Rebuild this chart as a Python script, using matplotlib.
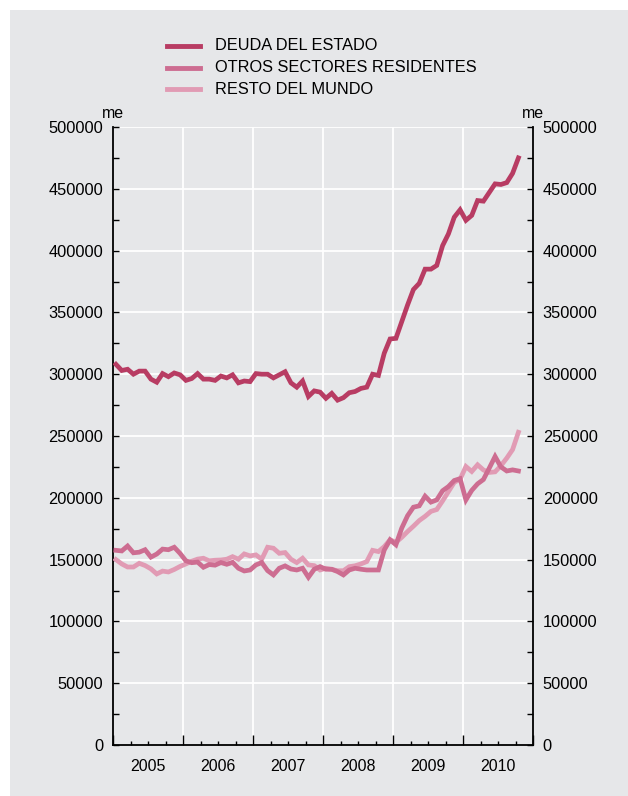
import numpy as np
import matplotlib
matplotlib.use("Agg")
import matplotlib.pyplot as plt
from matplotlib.lines import Line2D
from matplotlib.patches import Rectangle
from matplotlib.ticker import MultipleLocator, FixedLocator

plt.rcParams['font.family'] = ['Liberation Sans', 'DejaVu Sans']

# ---- data (thousands of euros, monthly Jan 2005 - Oct 2010) ----
start_year = 2005
n_months = 70
deuda_estado = [308, 303, 304, 300, 302.5, 302.5, 296, 293.5, 300.5, 298, 301, 299.5,
                295, 296.5, 300.5, 296, 296, 295, 298.5, 297, 299.5, 293, 294.5, 294,
                300.5, 300, 300, 297, 299.5, 302, 293, 289.5, 294.5, 282, 286.5, 285.5,
                280.5, 284.5, 279, 281, 285, 286, 288.5, 289.5, 300, 299, 317, 328.5,
                329, 342.5, 356, 368.5, 373.5, 385, 385, 388, 404, 413.5, 427, 433,
                424.5, 428.5, 440.5, 440, 447, 454, 453.5, 455, 462.5, 475]
otros_sectores = [157.5, 157, 161, 155.5, 156, 158, 152, 154.5, 158.5, 158, 160, 155,
                  149, 147.5, 148, 143.8, 146, 145.5, 147.6, 146.2, 147.8, 143, 140.8, 141.6,
                  145.7, 147.6, 141.1, 137.6, 143, 144.9, 142.4, 141.6, 143, 135.7, 142.2, 144.3,
                  142.2, 142.2, 140.3, 137.6, 141.6, 143, 142.2, 141.6, 141.6, 141.6, 157.8, 166,
                  162, 175.5, 185.5, 192.4, 193.5, 201.3, 196.5, 198.3, 205.7, 209.1, 214, 215.5,
                  198.3, 206, 211.3, 214.8, 224, 233.4, 225, 221.7, 222.6, 221.7]
resto_mundo = [150, 146.5, 144, 144, 147, 145.2, 142.5, 138.4, 140.7, 140, 142, 144.5,
               146.5, 148.7, 150.4, 151.1, 149, 149.5, 149.7, 150.3, 152.4, 150.3, 154.6, 153,
               153.8, 150.3, 160, 159.2, 155.1, 155.7, 150.3, 147.6, 151.1, 145.7, 145.1, 141.6,
               143, 142, 141, 141, 144.3, 145, 146.5, 148.4, 157.5, 156.5, 160.5, 166,
               164, 168, 172.7, 177, 181.6, 185, 189, 190.5, 197.5, 205, 212.5, 215,
               225.3, 221.3, 226.7, 222.5, 220.5, 221, 226, 232.1, 239, 253]
series_names = ["DEUDA DEL ESTADO", "OTROS SECTORES RESIDENTES", "RESTO DEL MUNDO"]
series_colors = ["#b83c63", "#cd6d91", "#e19bb4"]
year_labels = ["2005", "2006", "2007", "2008", "2009", "2010"]
unit_label = "me"

x = start_year + (np.arange(n_months) + 0.5) / 12.0
series = [np.array(deuda_estado) * 1000, np.array(otros_sectores) * 1000,
          np.array(resto_mundo) * 1000]

W, H = 628, 796
fig = plt.figure(figsize=(W / 100, H / 100), dpi=100)
fig.patch.set_facecolor("white")
bg = "#e6e7e9"
fig.add_artist(Rectangle((10 / W, 0), 1 - 10 / W, 1 - 10 / H, transform=fig.transFigure,
                         facecolor=bg, edgecolor="none", zorder=-10))

ax = fig.add_axes([113 / W, 1 - 745 / H, 420 / W, 618 / H])
ax.set_facecolor(bg)

# grid
for yv in np.arange(50000, 500001, 50000):
    ax.axhline(yv, color="white", lw=1.3, zorder=1)
for xv in range(2006, 2011):
    ax.axvline(xv, color="white", lw=1.3, zorder=1)

# series: draw lightest first
for ser, col in reversed(list(zip(series, series_colors))):
    ax.plot(x, ser, color=col, lw=3.4, solid_joinstyle="miter", zorder=3)

ax.set_xlim(2005, 2011)
ax.set_ylim(0, 500000)

ax.spines["top"].set_visible(False)
for s in ["left", "right", "bottom"]:
    ax.spines[s].set_color("black")
    ax.spines[s].set_linewidth(1.3)

# y ticks
ax.yaxis.set_major_locator(MultipleLocator(50000))
ax.yaxis.set_minor_locator(MultipleLocator(25000))
ax.yaxis.set_major_formatter(matplotlib.ticker.FuncFormatter(lambda v, p: f"{int(v)}"))
ax.tick_params(axis="y", which="both", direction="in", left=True, right=True,
               labelleft=True, labelright=True, labelsize=11.8, width=1.0)
ax.tick_params(axis="y", which="major", length=4, pad=7)
ax.tick_params(axis="y", which="minor", length=4)

# x ticks
ax.xaxis.set_major_locator(FixedLocator(range(2005, 2012)))
ax.xaxis.set_minor_locator(FixedLocator([y + q / 4 for y in range(2005, 2011) for q in (1, 2, 3)]))
ax.tick_params(axis="x", which="major", direction="in", length=7, width=1.0, labelbottom=False)
ax.tick_params(axis="x", which="minor", direction="in", length=3, width=1.0)
for i, lab in enumerate(year_labels):
    ax.text(2005.5 + i, -17500, lab, ha="center", va="center", fontsize=11.5, clip_on=False)

# unit labels
ax.text(0.0, 1.0 + 13 / 618, unit_label, transform=ax.transAxes, ha="center",
        va="center", fontsize=11.5)
ax.text(1.0, 1.0 + 13 / 618, unit_label, transform=ax.transAxes, ha="center",
        va="center", fontsize=11.5)

# legend (manual)
leg_y = [46, 67.5, 89]
for name, col, yy in zip(series_names, series_colors, leg_y):
    fig.add_artist(Line2D([167 / W, 200 / W], [1 - yy / H, 1 - yy / H],
                          transform=fig.transFigure, color=col, lw=3.5))
    fig.text(215 / W, 1 - yy / H, name, ha="left", va="center", fontsize=11.8)

fig.savefig("out.png", dpi=100, facecolor=fig.get_facecolor())
